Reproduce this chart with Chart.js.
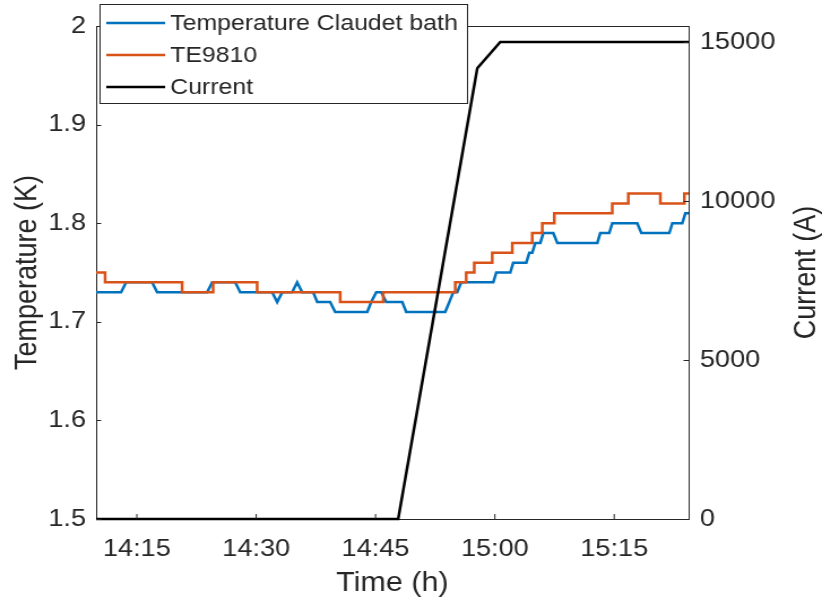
<!DOCTYPE html>
<html>
<head>
<meta charset="utf-8">
<script src="https://cdn.jsdelivr.net/npm/chart.js@4.4.0/dist/chart.umd.min.js"></script>
<style>
  html, body { margin: 0; padding: 0; background: #fff; }
  /* the reference figure is stretched sideways, so draw narrow and stretch */
  #chart { display: block; width: 822px !important; height: 608px !important; }
</style>
</head>
<body>
<canvas id="chart" width="727" height="608" style="width:822px;height:608px"></canvas>
<script>
// times are minutes after 14:00
const blueTime = [9.88, 13.02, 13.65, 16.92, 17.55, 23.84, 24.47, 27.36, 27.99, 32.01,
  32.64, 33.27, 34.52, 35.15, 35.78, 37.17, 37.67, 39.30, 39.93, 43.96,
  44.46, 45.09, 45.72, 46.34, 48.36, 48.86, 53.76, 54.27, 54.77, 55.27,
  55.77, 59.80, 60.18, 61.94, 62.31, 63.95, 64.33, 64.70, 65.08, 65.71,
  66.09, 67.34, 67.85, 72.88, 73.25, 74.38, 74.76, 77.90, 78.41, 81.93,
  82.31, 83.56, 83.94, 84.35];
const blueTemp = [1.73, 1.73, 1.74, 1.74, 1.73, 1.73, 1.74, 1.74, 1.73, 1.73,
  1.72, 1.73, 1.73, 1.74, 1.73, 1.73, 1.72, 1.72, 1.71, 1.71,
  1.72, 1.73, 1.73, 1.72, 1.72, 1.71, 1.71, 1.72, 1.73, 1.73,
  1.74, 1.74, 1.75, 1.75, 1.76, 1.76, 1.77, 1.77, 1.78, 1.78,
  1.79, 1.79, 1.78, 1.78, 1.79, 1.79, 1.80, 1.80, 1.79, 1.79,
  1.80, 1.80, 1.81, 1.81];

const orangeTime = [9.88, 11.01, 20.69, 24.59, 30.12, 40.56, 45.97, 55.02, 56.40, 57.41,
  59.67, 62.19, 64.70, 65.96, 67.47, 74.76, 76.77, 80.80, 83.82, 84.35];
const orangeTemp = [1.75, 1.74, 1.73, 1.74, 1.73, 1.72, 1.73, 1.74, 1.75, 1.76,
  1.77, 1.78, 1.79, 1.80, 1.81, 1.82, 1.83, 1.82, 1.83, 1.83];

const currentTime = [9.88, 47.85, 57.79, 60.68, 84.35];
const currentAmps = [0, 0, 14170, 15000, 15000];

const timeTicks = [15, 30, 45, 60, 75];
const timeLabels = ['14:15', '14:30', '14:45', '15:00', '15:15'];
const tempTicks = [1.5, 1.6, 1.7, 1.8, 1.9, 2];
const currentTicks = [0, 5000, 10000, 15000];

const INK = '#262626';
const FONT = '"Liberation Sans", Arial, sans-serif';
const rightTitle = 'Current (A)';

const pts = (xs, ys) => xs.map((x, i) => ({ x: x, y: ys[i] }));

const frame = {
  id: 'frame',
  afterDraw(chart) {
    const { ctx, chartArea: a, scales } = chart;
    ctx.save();
    ctx.strokeStyle = INK;
    ctx.lineWidth = 1;
    ctx.beginPath();
    ctx.moveTo(a.left, a.top + 0.5);
    ctx.lineTo(a.right, a.top + 0.5);
    scales.x.ticks.forEach(t => {
      const x = scales.x.getPixelForValue(t.value);
      ctx.moveTo(x, a.bottom);
      ctx.lineTo(x, a.bottom - 5);
    });
    scales.y.ticks.forEach(t => {
      const y = Math.round(scales.y.getPixelForValue(t.value)) + 0.5;
      ctx.moveTo(a.left, y);
      ctx.lineTo(a.left + 4.5, y);
    });
    scales.y1.ticks.forEach(t => {
      const y = Math.round(scales.y1.getPixelForValue(t.value)) + 0.5;
      ctx.moveTo(a.right, y);
      ctx.lineTo(a.right - 4.5, y);
    });
    ctx.stroke();

    // right axis title reads bottom to top, like the left one
    ctx.save();
    ctx.translate(714, (a.top + a.bottom) / 2);
    ctx.rotate(-Math.PI / 2);
    ctx.font = '27px ' + FONT;
    ctx.fillStyle = INK;
    ctx.textAlign = 'center';
    ctx.textBaseline = 'middle';
    ctx.fillText(rightTitle, 0, 0);
    ctx.restore();

    // legend box in the top left corner
    const L = { left: 88, top: 4, right: 413, bottom: 103 };
    ctx.fillStyle = '#fff';
    ctx.fillRect(L.left, L.top, L.right - L.left, L.bottom - L.top);
    ctx.strokeRect(L.left + 0.5, L.top + 0.5, L.right - L.left, L.bottom - L.top);
    const rows = [23, 55, 87];
    ctx.font = '22px ' + FONT;
    ctx.textAlign = 'left';
    ctx.textBaseline = 'middle';
    chart.data.datasets.forEach((ds, i) => {
      ctx.strokeStyle = ds.borderColor;
      ctx.lineWidth = 2.5;
      ctx.beginPath();
      ctx.moveTo(94, rows[i]);
      ctx.lineTo(146, rows[i]);
      ctx.stroke();
      ctx.fillStyle = INK;
      ctx.fillText(ds.label, 150.5, rows[i] + 1);
    });
    ctx.restore();
  }
};

const tickFont = { family: FONT, size: 24 };
const titleFont = { family: FONT, size: 27 };

new Chart(document.getElementById('chart'), {
  type: 'line',
  data: {
    datasets: [
      { label: 'Temperature Claudet bath', data: pts(blueTime, blueTemp), borderColor: '#0072BD',
        borderWidth: 2.5, yAxisID: 'y', order: 2, clip: false },
      { label: 'TE9810', data: pts(orangeTime, orangeTemp), borderColor: '#D95319',
        borderWidth: 2.5, yAxisID: 'y', stepped: true, order: 1, clip: false },
      { label: 'Current', data: pts(currentTime, currentAmps), borderColor: '#000000',
        borderWidth: 2.5, yAxisID: 'y1', order: 0, clip: false }
    ]
  },
  options: {
    responsive: false,
    animation: false,
    devicePixelRatio: 1,
    layout: { padding: { top: 26, left: 0, right: 0, bottom: 0 } },
    elements: { point: { radius: 0 }, line: { tension: 0 } },
    plugins: { legend: { display: false }, tooltip: { enabled: false } },
    scales: {
      x: {
        type: 'linear', min: 9.88, max: 84.35,
        grid: { display: false, drawTicks: false },
        border: { color: INK, width: 1 },
        afterBuildTicks: s => { s.ticks = timeTicks.map(v => ({ value: v })); },
        afterFit: s => { s.height = 89; },
        ticks: { padding: 16, color: INK, font: tickFont, maxRotation: 0,
          callback: v => timeLabels[timeTicks.indexOf(v)] },
        title: { display: true, text: 'Time (h)', color: INK, font: titleFont, padding: { top: 0, bottom: 8 } }
      },
      y: {
        type: 'linear', position: 'left', min: 1.5, max: 2,
        grid: { display: false, drawTicks: false },
        border: { color: INK, width: 1 },
        afterBuildTicks: s => { s.ticks = tempTicks.map(v => ({ value: v })); },
        afterFit: s => { s.width = 85; },
        ticks: { padding: 9, color: INK, font: tickFont, callback: v => String(v) },
        title: { display: true, text: 'Temperature (K)', color: INK, font: titleFont, padding: { top: 8, bottom: 0 } }
      },
      y1: {
        type: 'linear', position: 'right', min: 0, max: 15500,
        grid: { display: false, drawTicks: false },
        border: { color: INK, width: 1 },
        afterBuildTicks: s => { s.ticks = currentTicks.map(v => ({ value: v })); },
        afterFit: s => { s.width = 118; },
        ticks: { padding: 10, color: INK, font: tickFont, callback: v => String(v) }
      }
    }
  },
  plugins: [frame]
});
</script>
</body>
</html>
